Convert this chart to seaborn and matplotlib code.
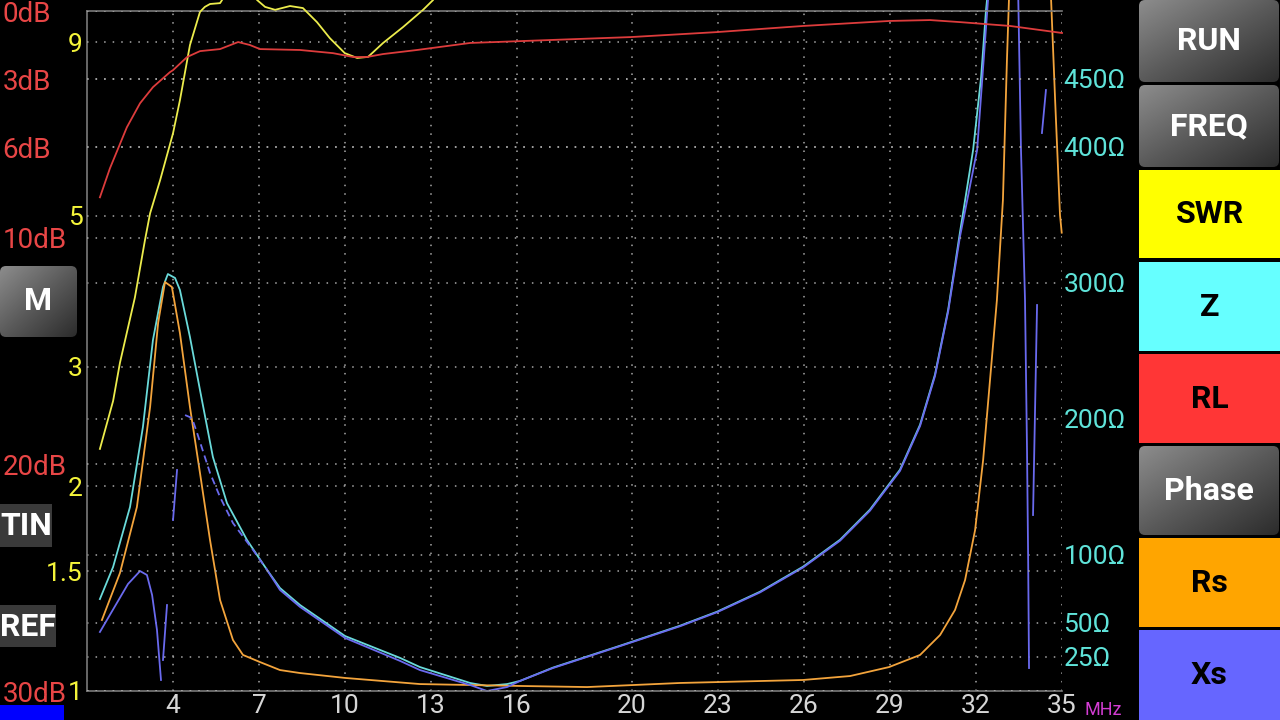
import numpy as np
import pandas as pd
import matplotlib
matplotlib.use("Agg")
import matplotlib.pyplot as plt
from matplotlib.patches import FancyBboxPatch, Rectangle
from matplotlib.colors import LinearSegmentedColormap
from matplotlib.ticker import NullLocator
import seaborn as sns

# Axis ticks
x_ticks = [4, 7, 10, 13, 16, 20, 23, 26, 29, 32, 35]
swr_ticks = [1, 1.5, 2, 3, 5, 9]
swr_labels = ["1", "1.5", "2", "3", "5", "9"]
rl_ticks = [0, 3, 6, 10, 20, 30]
rl_labels = ["0dB", "3dB", "6dB", "10dB", "20dB", "30dB"]
ohm_ticks = [25, 50, 100, 200, 300, 400, 450]
ohm_labels = ["25Ω", "50Ω", "100Ω", "200Ω", "300Ω", "400Ω", "450Ω"]

# SWR (yellow), MHz / ratio
swr_f = [1.45, 1.91, 2.15, 2.67, 3.02, 3.20, 3.55, 4.00, 4.24, 4.59, 4.94, 5.11, 5.29, 5.64, 5.71, 6.30,
         6.93, 7.21, 7.56, 8.08, 8.53, 9.02, 9.47, 9.99, 10.42, 10.80, 11.32, 12.02, 12.72, 13.07, 13.60]
swr_v = [2.27, 2.67, 3.04, 3.79, 4.60, 5.04, 5.64, 6.61, 7.39, 8.91, 9.97, 10.14, 10.24, 10.27, 10.38, 12.0,
         10.38, 10.14, 10.04, 10.17, 10.10, 9.63, 9.12, 8.67, 8.53, 8.56, 8.97, 9.47, 10.04, 10.38, 12.0]

# Return loss (red), dB
rl_f = [1.45, 1.80, 2.39, 2.85, 3.30, 3.89, 4.00, 4.49, 4.94, 5.64, 6.27, 6.68, 7.03, 8.43, 9.58, 10.28,
        10.76, 11.32, 12.51, 14.36, 17.15, 19.97, 22.97, 25.97, 28.97, 30.40, 31.44, 33.19, 35.00]
rl_v = [8.22, 6.94, 5.13, 4.07, 3.36, 2.70, 2.61, 2.03, 1.77, 1.68, 1.37, 1.50, 1.68, 1.72, 1.86, 2.03,
        2.03, 1.90, 1.72, 1.41, 1.28, 1.15, 0.93, 0.66, 0.44, 0.40, 0.49, 0.66, 0.97]

# |Z| (cyan), ohm
z_f = [1.45, 1.91, 2.50, 2.95, 3.30, 3.65, 3.82, 4.07, 4.24, 4.59, 4.94, 5.39, 5.88, 6.58, 7.28, 7.73,
       8.43, 10.00, 11.92, 12.61, 14.36, 14.95, 15.65, 16.10, 17.25, 19.59, 21.68, 22.97, 24.47, 25.97,
       27.26, 28.30, 29.35, 30.05, 30.57, 31.03, 31.44, 31.90, 32.18, 32.35, 32.49]
z_v = [67.6, 91.2, 135.3, 194.1, 258.1, 297.1, 306.6, 303.7, 294.9, 260.3, 221.3, 172.1, 138.2, 111.0,
       89.0, 75.7, 63.2, 40.4, 24.3, 17.6, 5.9, 3.7, 5.1, 7.4, 17.2, 33.3, 48.0, 58.3, 73.0, 91.4,
       111.2, 133.3, 162.7, 195.8, 232.6, 280.3, 337.0, 397.8, 451.5, 500.7, 530.0]

# Rs (orange), ohm, two pieces
rs_f = [[1.52, 2.15, 2.74, 3.20, 3.48, 3.72, 3.96, 4.24, 4.59, 4.94, 5.29, 5.64, 6.09, 6.44, 7.03, 7.73,
         8.43, 10.00, 12.61, 16.10, 18.44, 21.68, 25.97, 27.61, 28.97, 30.05, 30.75, 31.27, 31.62,
         31.97, 32.25, 32.49, 32.73, 32.94, 33.08, 33.15, 33.19],
        [34.58, 34.62, 34.76, 34.93, 34.99]]
rs_v = [[52.2, 86.8, 135.3, 208.8, 270.6, 300.7, 297.1, 263.2, 208.8, 160.3, 111.0, 66.9, 37.5, 26.5,
         21.3, 15.4, 13.2, 9.6, 5.1, 3.7, 2.9, 5.9, 8.1, 11.0, 17.6, 26.5, 41.2, 59.6, 81.6, 118.4,
         169.9, 228.7, 287.5, 361.0, 464.0, 508.1, 522.8],
        [522.8, 508.1, 434.6, 350.0, 337.0]]

# |Xs| (blue), ohm, broken pieces
xs_f = [[1.45, 1.98, 2.43, 2.85, 3.09, 3.27, 3.44, 3.58],
        [3.65, 3.79],
        [4.00, 4.14],
        [7.28, 7.73, 8.43, 10.00, 11.92, 12.61, 14.36, 14.95, 15.65, 16.10, 17.25, 19.59, 21.68, 22.97,
         24.47, 25.97, 27.26, 28.30, 29.35, 30.05, 30.57, 31.03, 31.44, 32.04, 32.42, 32.49],
        [33.47, 33.57, 33.71, 33.78, 33.82, 33.85],
        [33.99, 34.13],
        [34.30, 34.44]]
xs_v = [[43.4, 62.5, 78.7, 88.2, 85.3, 70.6, 44.9, 8.1],
        [22.8, 63.2],
        [125.7, 162.5],
        [89.0, 74.3, 61.8, 39.0, 22.1, 15.4, 4.4, 0.0, 2.9, 7.4, 16.9, 33.0, 47.6, 57.9, 72.5, 90.8,
         110.5, 132.5, 161.8, 194.8, 231.5, 279.0, 333.8, 397.8, 508.0, 523.0],
        [515.0, 397.8, 287.5, 177.2, 96.3, 16.9],
        [129.4, 283.8],
        [410.3, 441.9]]
# the dashed-looking piece of Xs just after the peak
xs_dash_f = [4.42, 4.66, 4.84, 5.29, 5.64, 6.09, 6.79, 7.28]
xs_dash_v = [202.9, 200.7, 189.7, 160.3, 142.6, 123.5, 103.7, 89.0]

buttons = ["RUN", "FREQ", "SWR", "Z", "RL", "Phase", "Rs", "Xs"]


def pieces(fs, vs):
    frames = [pd.DataFrame({"mhz": f, "val": v, "seg": i}) for i, (f, v) in enumerate(zip(fs, vs))]
    return pd.concat(frames, ignore_index=True)


plt.rcParams["font.family"] = ["Roboto", "DejaVu Sans"]
fig = plt.figure(figsize=(12.8, 7.2), dpi=100, facecolor="black")

# Decoration layer in pixel coordinates (buttons, side labels)
deco = fig.add_axes([0, 0, 1, 1], zorder=-5)
deco.set_facecolor("black")
gray_cmap = LinearSegmentedColormap.from_list("btn", ["#8c8c8c", "#5a5a5a", "#2c2c2c"])
grad = np.add.outer(np.linspace(0, 1, 60), np.linspace(0, 1, 60))
btn_fs = 23


def gray_button(x0, y0, x1, y1, label):
    box = FancyBboxPatch((x0, y0), x1 - x0, y1 - y0, boxstyle="round,pad=0,rounding_size=6",
                         fc="none", ec="none")
    deco.add_patch(box)
    im = deco.imshow(grad, cmap=gray_cmap, extent=(x0, x1, y1, y0), aspect="auto",
                     interpolation="bilinear")
    im.set_clip_path(box)
    deco.text((x0 + x1) / 2, (y0 + y1) / 2, label, ha="center", va="center", color="white",
              fontsize=btn_fs, fontweight="bold")


def color_button(x0, y0, x1, y1, label, fc):
    deco.add_patch(Rectangle((x0, y0), x1 - x0, y1 - y0, fc=fc, ec="none"))
    deco.text((x0 + x1) / 2, (y0 + y1) / 2, label, ha="center", va="center", color="black",
              fontsize=btn_fs, fontweight="bold")


btn_rows = [(0, 82), (85, 167), (170, 258), (262, 351), (354, 443), (446, 535), (538, 627), (630, 720)]
btn_fill = [None, None, "#ffff00", "#66ffff", "#ff3636", None, "#ffa500", "#6666ff"]
for name, (y0, y1), fc in zip(buttons, btn_rows, btn_fill):
    if fc is None:
        gray_button(1139, y0, 1279, y1, name)
    else:
        color_button(1139, y0, 1280, y1, name, fc)

gray_button(0, 266, 77, 337, "M")
deco.add_patch(Rectangle((0, 504), 52, 43, fc="#3a3a3a", ec="none"))
deco.text(26, 526, "TIN", ha="center", va="center", color="white", fontsize=btn_fs, fontweight="bold")
deco.add_patch(Rectangle((0, 605), 56, 42, fc="#3a3a3a", ec="none"))
deco.text(28, 627, "REF", ha="center", va="center", color="white", fontsize=btn_fs, fontweight="bold")
deco.add_patch(Rectangle((0, 705), 64, 15, fc="#0000ff", ec="none"))
deco.text(1085, 710, "MHz", ha="left", va="center", color="#d23cd2", fontsize=13)
deco.set_xlim(0, 1280)
deco.set_ylim(720, 0)
deco.axis("off")

# Main plot: ohm scale on the right
ax = fig.add_axes([87 / 1280, 29 / 720, 975 / 1280, 680 / 720])
ax.set_facecolor("black")
ax_swr = ax.twinx()
ax_rl = ax.twinx()
ax_swr.set_yscale("log")

grid_kw = dict(color="#a8a8a8", linestyle=(0, (1, 4.6)), linewidth=1.1)
lw = 1.3

sns.lineplot(data=pd.DataFrame({"mhz": z_f, "val": z_v}), x="mhz", y="val", estimator=None, sort=False,
             color="#6adada", linewidth=lw, ax=ax, clip_on=False)
sns.lineplot(data=pieces(rs_f, rs_v), x="mhz", y="val", units="seg", estimator=None, sort=False,
             color="#f3a43c", linewidth=lw, ax=ax, clip_on=False)
sns.lineplot(data=pieces(xs_f, xs_v), x="mhz", y="val", units="seg", estimator=None, sort=False,
             color="#6a6aee", linewidth=lw, ax=ax, clip_on=False)
sns.lineplot(data=pd.DataFrame({"mhz": xs_dash_f, "val": xs_dash_v}), x="mhz", y="val", estimator=None,
             sort=False, color="#6a6aee", linewidth=lw, linestyle=(0, (4, 2.5)), ax=ax, clip_on=False)
sns.lineplot(data=pd.DataFrame({"mhz": swr_f, "val": swr_v}), x="mhz", y="val", estimator=None, sort=False,
             color="#ecec4c", linewidth=lw, ax=ax_swr, clip_on=False)
sns.lineplot(data=pd.DataFrame({"mhz": rl_f, "val": rl_v}), x="mhz", y="val", estimator=None, sort=False,
             color="#dd3c3c", linewidth=lw, ax=ax_rl, clip_on=False)

ax.set_xlim(1, 35)
ax.set_ylim(0, 500)
ax.set_xticks(x_ticks, [str(t) for t in x_ticks])
ax.yaxis.tick_right()
ax.set_yticks(ohm_ticks, ohm_labels)
ax.tick_params(axis="x", length=0, pad=2, labelsize=19, labelcolor="#d6d6d6")
ax.tick_params(axis="y", length=0, pad=1, labelsize=19, labelcolor="#5fe3d9")
ax.grid(True, **grid_kw)

ax_swr.set_ylim(1, 10)
ax_swr.yaxis.tick_left()
ax_swr.set_yticks(swr_ticks, swr_labels)
ax_swr.yaxis.set_minor_locator(NullLocator())
ax_swr.tick_params(axis="y", length=0, pad=3, labelsize=19, labelcolor="#f4f43a")
ax_swr.grid(True, axis="y", **grid_kw)

ax_rl.set_ylim(30, 0)
ax_rl.yaxis.tick_left()
ax_rl.set_yticks(rl_ticks, rl_labels)
ax_rl.tick_params(axis="y", length=0, pad=61, labelsize=20, labelcolor="#e84646")
for lab in ax_rl.get_yticklabels():
    lab.set_horizontalalignment("left")
ax_rl.grid(True, axis="y", **grid_kw)

for a in (ax, ax_swr, ax_rl):
    a.set_xlabel("")
    a.set_ylabel("")
for a in (ax_swr, ax_rl):
    for s in a.spines.values():
        s.set_visible(False)
ax.spines["right"].set_visible(False)
for side in ("top", "left", "bottom"):
    ax.spines[side].set_color("#7a7a7a")
    ax.spines[side].set_linewidth(1.2)

fig.savefig("out.png", dpi=100, facecolor="black")
plt.close(fig)
